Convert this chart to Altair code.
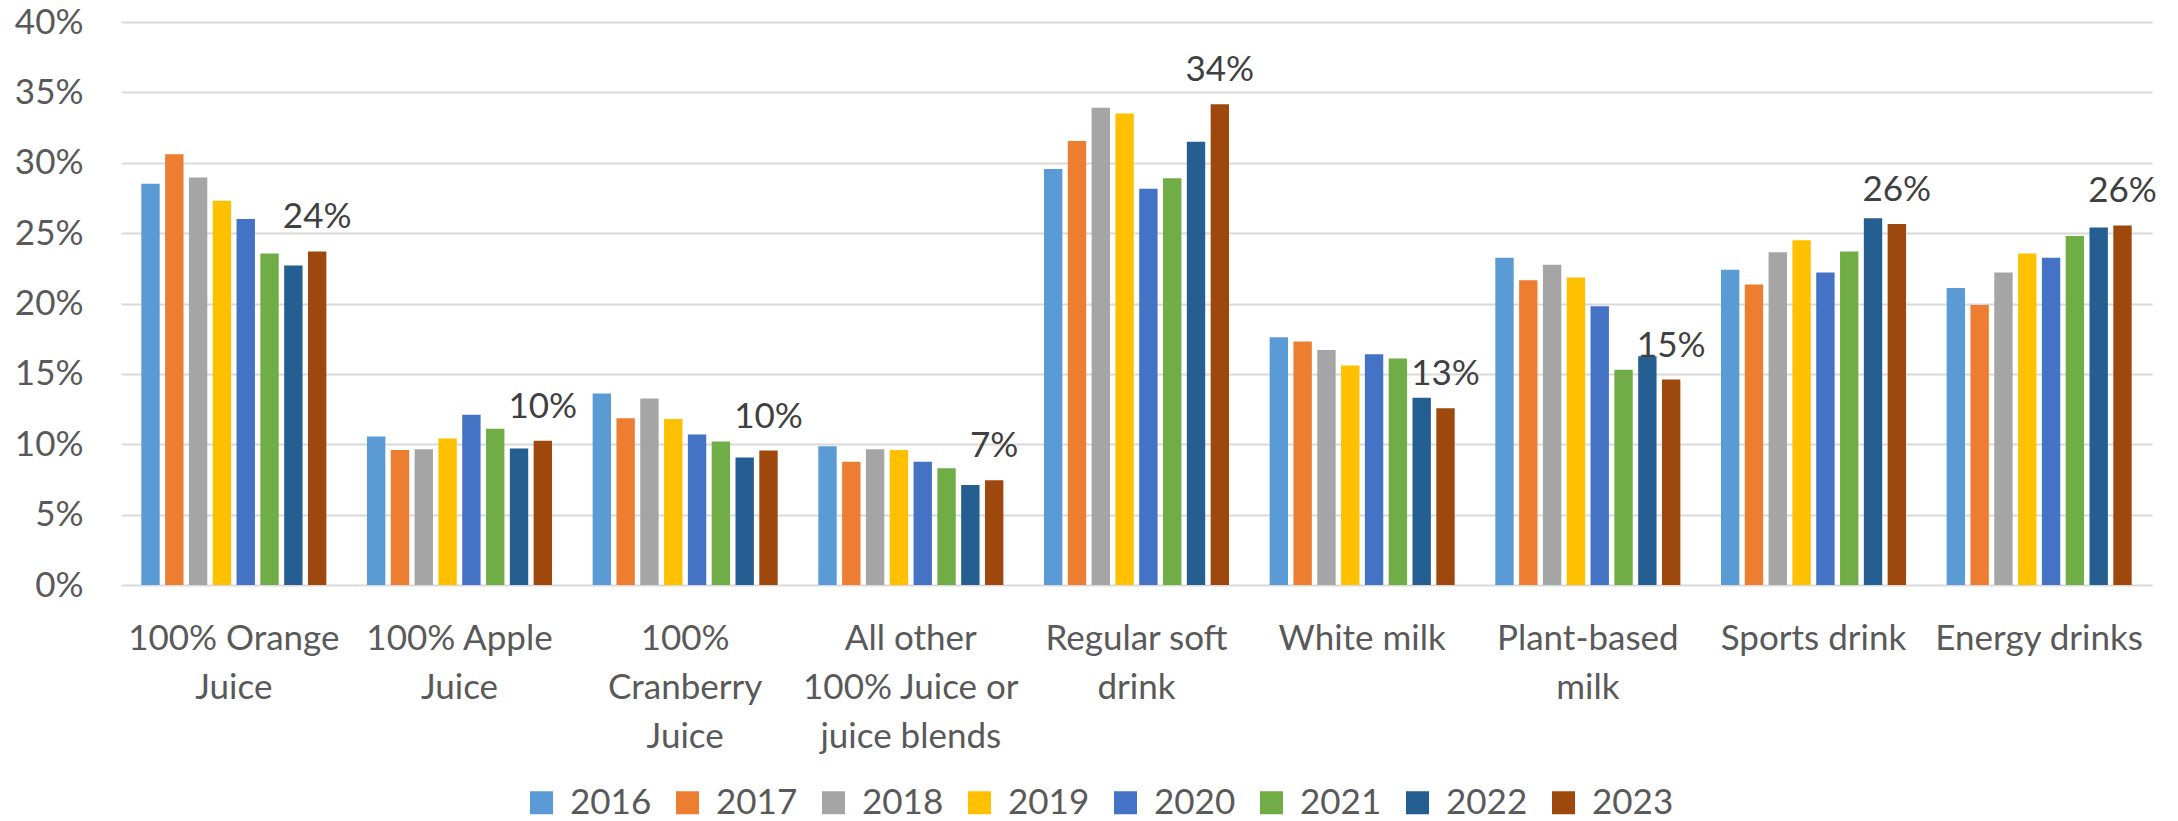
import altair as alt
import pandas as pd

# ---- data ----
categories = [
    "100% Orange|Juice",
    "100% Apple|Juice",
    "100%|Cranberry|Juice",
    "All other|100% Juice or|juice blends",
    "Regular soft|drink",
    "White milk",
    "Plant-based|milk",
    "Sports drink",
    "Energy drinks",
]
years = ["2016", "2017", "2018", "2019", "2020", "2021", "2022", "2023"]
v2016 = [28.5, 10.55, 13.6, 9.85, 29.55, 17.6, 23.25, 22.4, 21.1]
v2017 = [30.6, 9.6, 11.85, 8.75, 31.55, 17.3, 21.65, 21.35, 19.9]
v2018 = [28.95, 9.65, 13.25, 9.65, 33.9, 16.7, 22.75, 23.65, 22.2]
v2019 = [27.3, 10.4, 11.8, 9.6, 33.5, 15.6, 21.85, 24.5, 23.55]
v2020 = [26.0, 12.1, 10.7, 8.75, 28.15, 16.4, 19.8, 22.2, 23.25]
v2021 = [23.55, 11.1, 10.2, 8.3, 28.9, 16.1, 15.3, 23.7, 24.8]
v2022 = [22.7, 9.7, 9.05, 7.1, 31.5, 13.3, 16.25, 26.05, 25.4]
v2023 = [23.7, 10.25, 9.55, 7.45, 34.15, 12.55, 14.6, 25.65, 25.55]
series = [v2016, v2017, v2018, v2019, v2020, v2021, v2022, v2023]
colors = ["#5B9BD5", "#ED7D31", "#A5A5A5", "#FFC000", "#4472C4", "#70AD47", "#255E91", "#9E480E"]
y_ticks = [0, 5, 10, 15, 20, 25, 30, 35, 40]
label_year = "2023"

rows = []
for yr, vals in zip(years, series):
    for c, v in zip(categories, vals):
        rows.append({"category": c, "year": yr, "value": v})
df = pd.DataFrame(rows)

FONT = "Lato"

x_enc = alt.X(
    "category:N",
    sort=categories,
    scale=alt.Scale(paddingInner=0.18, paddingOuter=0.09),
    axis=alt.Axis(
        title=None,
        labelAngle=0,
        labelExpr="split(datum.label, '|')",
        labelFont=FONT,
        labelFontSize=35,
        labelColor="#595959",
        labelLineHeight=49,
        labelPadding=36,
        labelLimit=400,
        domain=False,
        ticks=False,
        grid=False,
    ),
)
y_enc = alt.Y(
    "value:Q",
    scale=alt.Scale(domain=[0, 40], nice=False),
    axis=alt.Axis(
        title=None,
        values=y_ticks,
        labelExpr="datum.value + '%'",
        labelFont=FONT,
        labelFontSize=35,
        labelColor="#595959",
        labelPadding=38,
        labelBaseline="middle",
        domain=False,
        ticks=False,
        grid=True,
        gridColor="#D9D9D9",
        gridWidth=2,
    ),
)
xoff = alt.XOffset("year:N", sort=years, scale=alt.Scale(paddingInner=0.228, paddingOuter=0))

bars = alt.Chart(df).mark_bar().encode(
    x=x_enc,
    y=y_enc,
    xOffset=xoff,
    color=alt.Color(
        "year:N",
        sort=years,
        scale=alt.Scale(domain=years, range=colors),
        legend=alt.Legend(
            title=None,
            orient="none",
            direction="horizontal",
            legendX=403,
            legendY=763,
            symbolType="square",
            symbolSize=529,
            symbolStrokeWidth=0,
            symbolOpacity=1,
            labelFont=FONT,
            labelFontSize=35,
            labelColor="#595959",
            labelOffset=11,
            columnPadding=18,
            padding=0,
        ),
    ),
)

labels = (
    alt.Chart(df)
    .transform_filter(alt.datum.year == label_year)
    .transform_calculate(txt="format(round(datum.value), 'd') + '%'")
    .mark_text(font=FONT, fontSize=35, color="#404040", baseline="alphabetic", align="center", dy=-23)
    .encode(x=alt.X("category:N", sort=categories), y="value:Q", xOffset=xoff, text="txt:N")
)

chart = (
    alt.layer(bars, labels)
    .properties(
        width=2031,
        height=563,
        autosize=alt.AutoSizeParams(type="none"),
        padding={"left": 121, "top": 22, "right": 26, "bottom": 236},
        background="white",
    )
    .configure_view(stroke=None)
)

chart.save("out.html", embed_options={"renderer": "svg", "actions": False})
